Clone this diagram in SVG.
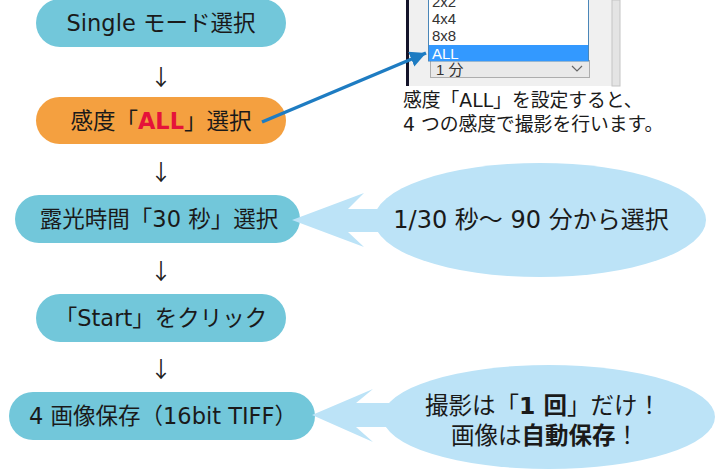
<svg xmlns="http://www.w3.org/2000/svg" width="716" height="472" viewBox="0 0 716 472">
<style>
.t{font-family:"DejaVu Sans","Noto Sans CJK JP",sans-serif;fill:#1a1a1a;dominant-baseline:central}
.teal{fill:#72c7da}
.orange{fill:#f4a040}
.bub{fill:#bce3f7}
.arr{font-family:"Noto Sans CJK JP",sans-serif;font-size:22px;fill:#222;text-anchor:middle;dominant-baseline:central}
.ss{font-family:"Liberation Sans","Noto Sans CJK JP",sans-serif;font-size:15px;fill:#333}
.b{font-weight:bold}
</style>
<defs>
<marker id="ah" markerUnits="userSpaceOnUse" markerWidth="18" markerHeight="16" refX="16" refY="8" orient="auto">
<path d="M0,0 L16,8 L0,16 Z" fill="#1e7cc2"/>
</marker>
</defs>
<rect width="716" height="472" fill="#fff"/>

<!-- screenshot -->
<g id="screenshot">
<rect x="406" y="0" width="3" height="86" fill="#14142a"/>
<rect x="409" y="0" width="204" height="86" fill="#f0f0f0"/>
<rect x="612" y="0" width="8" height="86" fill="#e4e4e4" stroke="#c4c4c4" stroke-width="1"/>
<rect x="430.5" y="60.5" width="159" height="17" fill="#e9e9e9" stroke="#adadad"/>
<text class="ss" x="436" y="75">1 分</text>
<path d="M572,66 L577,71 L582,66" fill="none" stroke="#666" stroke-width="1.2"/>
<rect x="428.5" y="-2" width="160" height="63" fill="#fff" stroke="#4a86b8"/>
<text class="ss" x="432" y="7">2x2</text>
<text class="ss" x="432" y="24">4x4</text>
<text class="ss" x="432" y="41">8x8</text>
<rect x="429" y="45" width="159" height="16" fill="#3399ff"/>
<text class="ss" x="432" y="59" style="fill:#fff">ALL</text>
</g>

<g id="caption">
<text class="t" x="403" y="100" font-size="18.8">感度「ALL」を設定すると、</text>
<text class="t" x="403" y="124" font-size="18.8">4 つの感度で撮影を行います。</text>
</g>

<g id="n1"><rect class="teal" x="36" y="-1" width="250" height="48" rx="24"/>
<text class="t" x="161" y="23" font-size="22.5" text-anchor="middle">Single モード選択</text></g>

<g id="n2"><rect class="orange" x="36" y="97" width="250" height="47" rx="23.5"/>
<text class="t" x="161" y="121" font-size="22.5" text-anchor="middle">感度「<tspan class="b" style="fill:#e5133a">ALL</tspan>」選択</text></g>

<g id="n3"><rect class="teal" x="15" y="195" width="285" height="48" rx="24"/>
<text class="t" x="159" y="219" font-size="22.5" text-anchor="middle">露光時間「30 秒」選択</text></g>

<g id="n4"><rect class="teal" x="36" y="294" width="250" height="48" rx="24"/>
<text class="t" x="161" y="318" font-size="22.5" text-anchor="middle">「Start」をクリック</text></g>

<g id="n5"><rect class="teal" x="9" y="392" width="306" height="48" rx="24"/>
<text class="t" x="163" y="416" font-size="22.5" text-anchor="middle">4 画像保存（16bit TIFF）</text></g>

<g id="callout1">
<ellipse class="bub" cx="540" cy="220" rx="166" ry="57"/>
<polygon class="bub" points="380,209 348,209 364,193 292,220 364,247 348,232 380,232"/>
<text class="t" x="531" y="220" font-size="24" text-anchor="middle">1/30 秒～ 90 分から選択</text>
</g>

<g id="callout2">
<ellipse class="bub" cx="549" cy="417" rx="166" ry="52"/>
<polygon class="bub" points="390,403 356,403 373,389 312,415 373,442 356,427 390,427"/>
<text class="t" x="543" y="406" font-size="23.5" text-anchor="middle">撮影は「<tspan class="b">1 回</tspan>」だけ！</text>
<text class="t" x="545" y="436" font-size="23.5" text-anchor="middle">画像は<tspan class="b">自動保存</tspan>！</text>
</g>

<g id="connectors">
<text class="arr" x="161" y="75">↓</text>
<text class="arr" x="161" y="170">↓</text>
<text class="arr" x="161" y="269">↓</text>
<text class="arr" x="161" y="367">↓</text>
<line x1="262" y1="122" x2="426" y2="53" stroke="#1e7cc2" stroke-width="3.5" marker-end="url(#ah)"/>
</g>
</svg>
